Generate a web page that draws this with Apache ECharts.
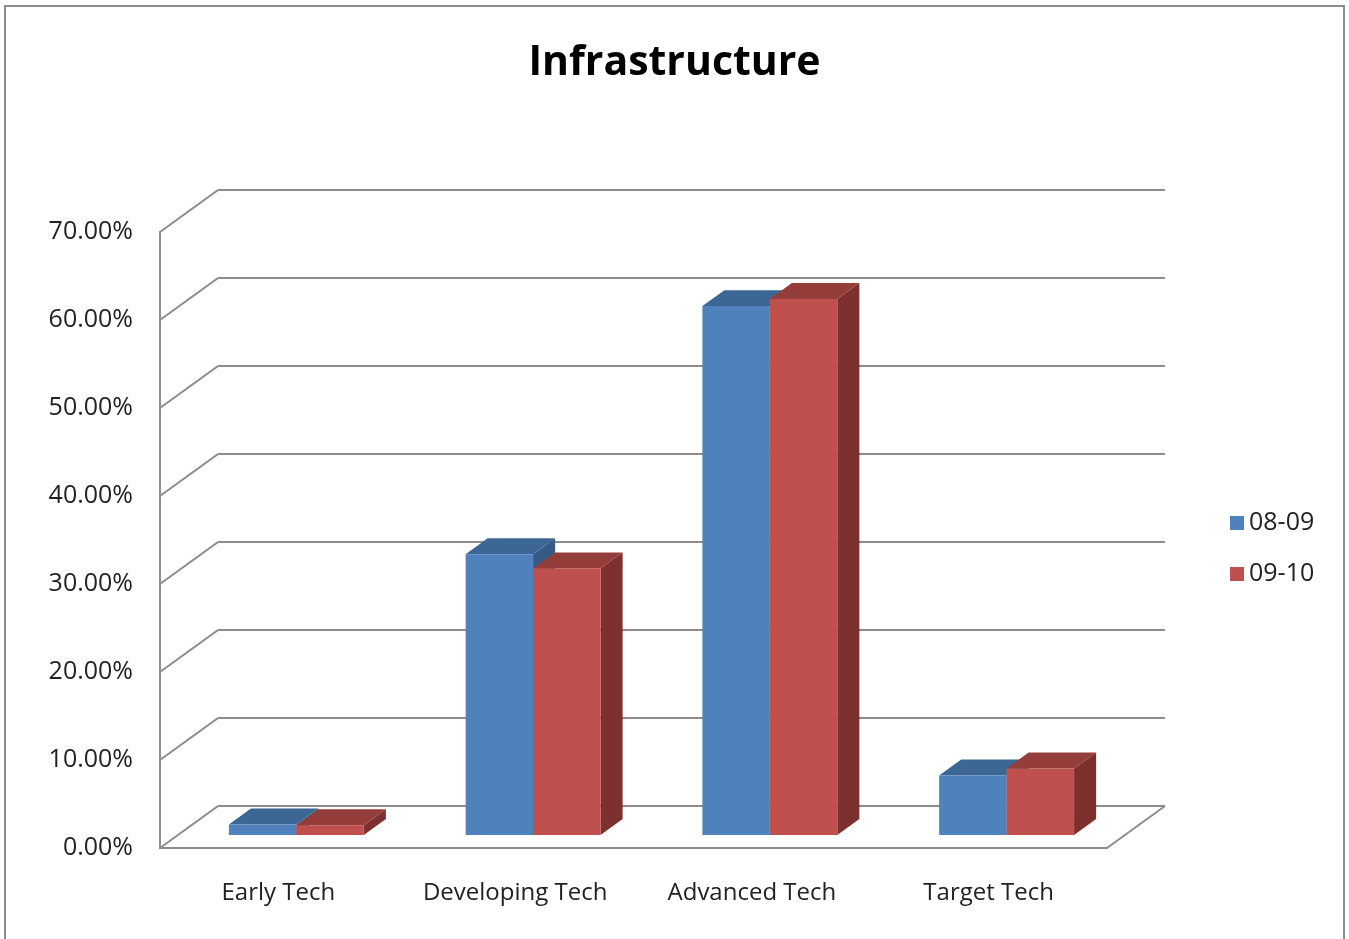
<!DOCTYPE html>
<html>
<head>
<meta charset="utf-8">
<script src="https://cdn.jsdelivr.net/npm/echarts@6/dist/echarts.min.js"></script>
<style>html,body{margin:0;padding:0;background:#fff}#c{width:1349px;height:939px}</style>
</head>
<body>
<div id="c"></div>
<script>
// ---- data ----
const categories = ['Early Tech', 'Developing Tech', 'Advanced Tech', 'Target Tech'];
const seriesNames = ['08-09', '09-10'];
const values0809 = [1.2, 31.9, 60.1, 6.75];
const values0910 = [1.1, 30.3, 60.9, 7.55];
const yTicks = [0, 10, 20, 30, 40, 50, 60, 70];

// ---- layout / style ----
const DX = 58, DY = -42;          // depth offset of the back wall
const FRONT_F = 0.31, BAR_D = 0.38; // bar position in depth
const BAR_W = 0.285;               // bar width as fraction of band
const GRID_COLOR = '#8c8c8c';
const FONT = 'Open Sans';
const colors = [
  { front: '#4F81BD', top: '#3C6694', side: '#345A85' },
  { front: '#C0504D', top: '#953D3A', side: '#7D302E' }
];

const chart = echarts.init(document.getElementById('c'));

function barRender(sIdx) {
  return function (params, api) {
    const cat = api.value(0), v = api.value(1);
    const base = api.coord([cat, 0]);
    const top = api.coord([cat, v]);
    const band = api.size([1, 0])[0];
    const bw = band * BAR_W;
    const fx = FRONT_F * DX, fy = FRONT_F * DY;
    const ddx = BAR_D * DX, ddy = BAR_D * DY;
    const x0 = base[0] + fx + (sIdx === 0 ? -bw : 0);
    const x1 = x0 + bw;
    const yb = base[1] + fy, yt = top[1] + fy;
    const c = colors[sIdx];
    return {
      type: 'group',
      children: [
        { type: 'polygon', shape: { points: [[x1, yt], [x1 + ddx, yt + ddy], [x1 + ddx, yb + ddy], [x1, yb]] }, style: { fill: c.side } },
        { type: 'polygon', shape: { points: [[x0, yt], [x0 + ddx, yt + ddy], [x1 + ddx, yt + ddy], [x1, yt]] }, style: { fill: c.top } },
        { type: 'rect', shape: { x: x0, y: yt, width: bw, height: yb - yt }, style: { fill: c.front } }
      ]
    };
  };
}

const option = {
  animation: false,
  backgroundColor: '#fff',
  title: {
    text: 'Infrastructure', left: 'center', top: 33,
    textStyle: { fontFamily: FONT, fontWeight: 'bold', fontSize: 41, color: '#000', lineHeight: 50 }
  },
  legend: {
    orient: 'vertical', left: 1225, top: 503,
    itemWidth: 14, itemHeight: 14, itemGap: 21, icon: 'rect',
    textStyle: { fontFamily: FONT, fontSize: 25, color: '#222', lineHeight: 30 },
    data: seriesNames
  },
  grid: [
    { left: 160, top: 232, width: 947, height: 616 },
    { left: 160 + DX, top: 232 + DY, width: 947, height: 616 }
  ],
  xAxis: [
    {
      type: 'category', gridIndex: 0, data: categories,
      axisLine: { lineStyle: { color: GRID_COLOR, width: 2 } },
      axisTick: { show: false },
      axisLabel: { interval: 0, fontFamily: FONT, fontSize: 24, color: '#222', margin: 33 }
    },
    { type: 'category', gridIndex: 1, data: categories, show: false }
  ],
  yAxis: [
    {
      type: 'value', gridIndex: 0, min: 0, max: 70, interval: 10,
      axisLine: { show: true, lineStyle: { color: GRID_COLOR, width: 2 } },
      axisTick: { show: false }, splitLine: { show: false },
      axisLabel: { fontFamily: FONT, fontSize: 25, color: '#222', margin: 27, lineHeight: 30, padding: [8, 0, 0, 0], formatter: v => v.toFixed(2) + '%' }
    },
    {
      type: 'value', gridIndex: 1, min: 0, max: 70, interval: 10,
      axisLine: { show: false }, axisTick: { show: false }, axisLabel: { show: false },
      splitLine: { show: true, lineStyle: { color: GRID_COLOR, width: 2 } }
    }
  ],
  series: [
    {
      type: 'custom', name: 'diag', xAxisIndex: 0, yAxisIndex: 0, silent: true, z: 1,
      data: yTicks.map(v => [0, v]),
      renderItem: function (params, api) {
        const cs = params.coordSys;
        const p = api.coord([0, api.value(1)]);
        const children = [
          { type: 'line', shape: { x1: cs.x, y1: p[1], x2: cs.x + DX, y2: p[1] + DY }, style: { stroke: GRID_COLOR, lineWidth: 2 } }
        ];
        if (api.value(1) === 0) {
          children.push({ type: 'line', shape: { x1: cs.x + cs.width, y1: p[1], x2: cs.x + cs.width + DX, y2: p[1] + DY }, style: { stroke: GRID_COLOR, lineWidth: 2 } });
        }
        return { type: 'group', children: children };
      }
    },
    {
      type: 'custom', name: seriesNames[0], xAxisIndex: 0, yAxisIndex: 0, z: 3,
      itemStyle: { color: colors[0].front },
      data: values0809.map((v, i) => [i, v]),
      renderItem: barRender(0)
    },
    {
      type: 'custom', name: seriesNames[1], xAxisIndex: 0, yAxisIndex: 0, z: 4,
      itemStyle: { color: colors[1].front },
      data: values0910.map((v, i) => [i, v]),
      renderItem: barRender(1)
    }
  ],
  graphic: [
    { type: 'rect', shape: { x: 5, y: 6, width: 1339, height: 960 }, style: { fill: 'none', stroke: GRID_COLOR, lineWidth: 2 }, silent: true }
  ]
};
chart.setOption(option);
</script>
</body>
</html>
